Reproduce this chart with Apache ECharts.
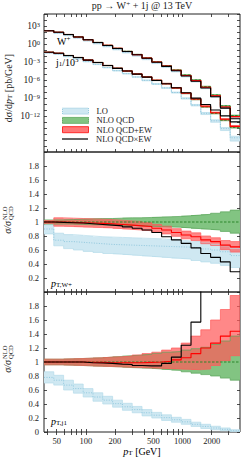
<!DOCTYPE html>
<html><head><meta charset="utf-8">
<script src="https://cdn.jsdelivr.net/npm/echarts@6/dist/echarts.min.js"></script>
<style>html,body{margin:0;padding:0;background:#fff}#c{width:241px;height:460px}</style>
</head><body><div id="c"></div>
<script>
// ---------- data ----------
const binEdges = [37.0, 46.7, 59.0, 74.5, 94.0, 118.7, 149.9, 189.3, 239.0, 301.8, 381.1, 481.2, 607.5, 767.0, 968.3, 1222.5, 1543.5, 1948.8, 2460.3, 3106.4, 3922];
// NLO QCD central dσ/dpT [pb/GeV]
const wNloQcd = [166, 89, 38, 15, 5.2, 1.8, 0.6, 0.19, 0.06, 0.018, 4.7e-3, 1.1e-3, 2.4e-4, 4.7e-5, 6.8e-6, 1.0e-6, 8.3e-8, 3.2e-9, 4.7e-11, 1.2e-12];
const j1NloQcd = [42, 28, 12, 5.6, 2.1, 0.83, 0.26, 0.089, 0.032, 0.01, 3.2e-3, 8.9e-4, 2.4e-4, 4.7e-5, 6.0e-6, 6.0e-7, 3.5e-8, 2.8e-9, 2.1e-10, 1.3e-11];
const j1Scale = 1e-3;
// ratios to NLO QCD, W+ pT
const wLoC  = [0.9, 0.74, 0.72, 0.71, 0.7, 0.69, 0.68, 0.675, 0.67, 0.665, 0.66, 0.655, 0.65, 0.645, 0.64, 0.63, 0.615, 0.6, 0.575, 0.52];
const wLoUp = [0.96, 0.84, 0.82, 0.81, 0.8, 0.79, 0.785, 0.78, 0.775, 0.77, 0.765, 0.76, 0.75, 0.74, 0.73, 0.72, 0.7, 0.68, 0.66, 0.62];
const wLoDn = [0.83, 0.66, 0.62, 0.6, 0.58, 0.565, 0.55, 0.54, 0.53, 0.52, 0.51, 0.5, 0.49, 0.48, 0.47, 0.45, 0.43, 0.41, 0.38, 0.35];
const wQcdUp = [1.03, 1.03, 1.035, 1.04, 1.045, 1.05, 1.05, 1.055, 1.06, 1.06, 1.065, 1.07, 1.075, 1.08, 1.09, 1.1, 1.11, 1.125, 1.145, 1.17];
const wQcdDn = [0.97, 0.97, 0.97, 0.965, 0.96, 0.96, 0.955, 0.95, 0.95, 0.945, 0.94, 0.935, 0.93, 0.925, 0.915, 0.905, 0.895, 0.885, 0.865, 0.84];
const wEwC  = [1.0, 1.0, 0.995, 0.99, 0.985, 0.98, 0.975, 0.965, 0.955, 0.945, 0.935, 0.91, 0.885, 0.85, 0.815, 0.79, 0.745, 0.72, 0.67, 0.645];
const wEwUp = [1.02, 1.06, 1.055, 1.05, 1.045, 1.04, 1.035, 1.025, 1.015, 1.005, 0.99, 0.965, 0.94, 0.905, 0.87, 0.845, 0.8, 0.775, 0.735, 0.72];
const wEwDn = [0.98, 0.94, 0.935, 0.93, 0.925, 0.92, 0.915, 0.905, 0.895, 0.885, 0.875, 0.855, 0.83, 0.795, 0.76, 0.735, 0.69, 0.665, 0.605, 0.57];
const wMult = [1.0, 0.995, 0.99, 0.985, 0.975, 0.965, 0.955, 0.945, 0.93, 0.91, 0.885, 0.85, 0.79, 0.745, 0.695, 0.63, 0.55, 0.495, 0.43, 0.29];
// ratios to NLO QCD, leading jet pT
const jLoC  = [0.78, 0.74, 0.67, 0.62, 0.56, 0.5, 0.455, 0.405, 0.36, 0.32, 0.275, 0.24, 0.205, 0.175, 0.145, 0.11, 0.08, 0.057, 0.038, 0.018];
const jLoUp = [0.86, 0.81, 0.74, 0.685, 0.62, 0.56, 0.51, 0.455, 0.41, 0.365, 0.32, 0.28, 0.245, 0.21, 0.18, 0.14, 0.11, 0.082, 0.058, 0.033];
const jLoDn = [0.70, 0.67, 0.60, 0.555, 0.50, 0.44, 0.40, 0.355, 0.31, 0.275, 0.23, 0.20, 0.165, 0.14, 0.11, 0.08, 0.05, 0.032, 0.018, 0.005];
const jQcdUp = [1.04, 1.04, 1.045, 1.05, 1.055, 1.06, 1.07, 1.08, 1.09, 1.1, 1.11, 1.125, 1.14, 1.15, 1.17, 1.19, 1.21, 1.25, 1.3, 1.37];
const jQcdDn = [0.96, 0.96, 0.955, 0.95, 0.945, 0.94, 0.935, 0.93, 0.92, 0.915, 0.91, 0.9, 0.89, 0.88, 0.86, 0.84, 0.82, 0.8, 0.77, 0.74];
const jEwC  = [1.0, 1.0, 1.0, 1.0, 0.995, 0.995, 0.99, 0.99, 0.99, 0.99, 0.995, 1.0, 1.01, 1.03, 1.06, 1.12, 1.2, 1.27, 1.37, 1.44];
const jEwUp = [1.04, 1.04, 1.045, 1.05, 1.055, 1.06, 1.07, 1.075, 1.085, 1.1, 1.12, 1.14, 1.17, 1.2, 1.27, 1.37, 1.46, 1.6, 1.75, 1.95];
const jEwDn = [0.96, 0.96, 0.955, 0.95, 0.945, 0.94, 0.935, 0.93, 0.925, 0.92, 0.915, 0.91, 0.905, 0.9, 0.895, 0.89, 0.9, 0.95, 1.02, 1.09];
const jMult = [1.0, 1.0, 1.0, 1.0, 0.99, 0.985, 0.98, 0.97, 0.965, 0.95, 0.945, 0.945, 0.98, 1.07, 1.24, 1.57, 2.4, 3.5, 5, 8];
const ones = [1, 1, 1, 1, 1, 1, 1, 1, 1, 1, 1, 1, 1, 1, 1, 1, 1, 1, 1, 1];
// ticks / labels
const xLabelValues = [50, 100, 200, 500, 1000, 2000];
const xTickValues = [40, 50, 60, 70, 80, 90, 100, 200, 300, 400, 500, 600, 700, 800, 900, 1000, 2000, 3000];
const yLogLabelValues = [1e3, 1, 1e-3, 1e-6, 1e-9, 1e-12];
const yLogTickValues = [1e5, 1e4, 1e3, 1e2, 1e1, 1, 1e-1, 1e-2, 1e-3, 1e-4, 1e-5, 1e-6, 1e-7, 1e-8, 1e-9, 1e-10, 1e-11, 1e-12, 1e-13, 1e-14, 1e-15, 1e-16, 1e-17];
const ratioTickValues = [0, 0.2, 0.4, 0.6, 0.8, 1, 1.2, 1.4, 1.6, 1.8, 2];
const ratioLabelsMid = [0.2, 0.4, 0.6, 0.8, 1, 1.2, 1.4, 1.6, 1.8];
const ratioLabelsBot = [0, 0.2, 0.4, 0.6, 0.8, 1, 1.2, 1.4, 1.6, 1.8];
const legendNames = ['LO', 'NLO QCD', 'NLO QCD+EW', 'NLO QCD×EW'];

// ---------- style ----------
const FONT = "'Liberation Serif','DejaVu Serif',serif";
const TXT = '#1a1a1a';
const C = {
  loFill: '#cfe8f2', loLine: '#8fc7dd', loEdge: '#b5dbe9',
  qcdFill: '#82c482', qcdLine: '#2a862a', qcdEdge: '#5aa55a',
  ewFill: 'rgba(255,90,90,0.72)', ewLine: '#ff0000', ewEdge: '#ff5a5a',
  mult: '#000000'
};

const mul = (a, b, s) => a.map((v, i) => v * b[i] * (s || 1));
function stepData(vals) {
  const d = vals.map((v, i) => [binEdges[i], v]);
  d.push([binEdges[vals.length], vals[vals.length - 1]]);
  return d;
}
function band(name, gi, lo, hi, fill, z) {
  return {
    type: 'custom', name, xAxisIndex: 2 * gi, yAxisIndex: 2 * gi, z, clip: true, silent: true,
    data: [[binEdges[0], lo[0]]],
    renderItem(params, api) {
      const pts = [];
      for (let i = 0; i < hi.length; i++) {
        pts.push(api.coord([binEdges[i], hi[i]]));
        pts.push(api.coord([binEdges[i + 1], hi[i]]));
      }
      for (let i = lo.length - 1; i >= 0; i--) {
        pts.push(api.coord([binEdges[i + 1], lo[i]]));
        pts.push(api.coord([binEdges[i], lo[i]]));
      }
      return { type: 'polygon', shape: { points: pts }, style: { fill, stroke: null } };
    }
  };
}
function step(name, gi, vals, color, width, type, z) {
  return {
    type: 'line', name, xAxisIndex: 2 * gi, yAxisIndex: 2 * gi, z, step: 'end', symbol: 'none',
    silent: true, animation: false, clip: true,
    lineStyle: { color, width, type }, data: stepData(vals)
  };
}
function panelSeries(gi, base, sc, loC, loUp, loDn, qUp, qDn, eC, eUp, eDn, mult) {
  const m = a => mul(a, base, sc);
  return [
    band('LO', gi, m(loDn), m(loUp), C.loFill, 1),
    band('NLO QCD', gi, m(qDn), m(qUp), C.qcdFill, 2),
    band('NLO QCD+EW', gi, m(eDn), m(eUp), C.ewFill, 3),
    step('', gi, m(loUp), C.loEdge, 0.7, 'solid', 4),
    step('', gi, m(loDn), C.loEdge, 0.7, 'solid', 4),
    step('', gi, m(qUp), C.qcdEdge, 0.7, 'solid', 4),
    step('', gi, m(qDn), C.qcdEdge, 0.7, 'solid', 4),
    step('', gi, m(eUp), C.ewEdge, 0.7, 'solid', 4),
    step('', gi, m(eDn), C.ewEdge, 0.7, 'solid', 4),
    step('', gi, m(loC), C.loLine, 1, [1, 1.5], 5),
    step('', gi, m(ones), C.qcdLine, 1, [2.5, 1.5], 6),
    step('', gi, m(eC), C.ewLine, 1.1, 'solid', 7),
    step('NLO QCD×EW', gi, m(mult), C.mult, 1.1, 'solid', 8)
  ];
}

const grids = [
  { left: 44, top: 14, width: 196, height: 138 },
  { left: 44, top: 152, width: 196, height: 140 },
  { left: 44, top: 292, width: 196, height: 140 }
].map(g => Object.assign(g, { show: true, borderColor: '#222', borderWidth: 1, backgroundColor: 'transparent', containLabel: false }));

const xAxes = [];
const yAxes = [];
for (let gi = 0; gi < 3; gi++) {
  ['bottom', 'top'].forEach(pos => {
    xAxes.push({
      type: 'log', logBase: 10, gridIndex: gi, position: pos, min: binEdges[0], max: binEdges[20],
      axisLine: { show: false },
      axisTick: { show: true, inside: true, length: 3, customValues: xTickValues, lineStyle: { color: '#222', width: 0.8 } },
      axisLabel: { show: gi === 2 && pos === 'bottom', customValues: xLabelValues, formatter: v => String(Math.round(v)), fontFamily: FONT, fontSize: 8.5, color: TXT, margin: 4 },
      splitLine: { show: false }
    });
  });
  ['left', 'right'].forEach(pos => {
    if (gi === 0) {
      yAxes.push({
        type: 'log', logBase: 10, gridIndex: gi, position: pos, min: 1e-18, max: 1e5,
        axisLine: { show: false },
        axisTick: { show: true, inside: true, length: 3, customValues: yLogTickValues, lineStyle: { color: '#222', width: 0.8 } },
        axisLabel: {
          show: pos === 'left', customValues: yLogLabelValues, margin: 4,
          formatter: v => { const e = Math.round(Math.log10(v)); return '{b|10}{s|' + (e < 0 ? '−' + (-e) : e) + '}'; },
          rich: { b: { fontFamily: FONT, fontSize: 9.5, color: TXT }, s: { fontFamily: FONT, fontSize: 6.5, color: TXT, verticalAlign: 'top', padding: [0, 0, 4, 0] } }
        },
        splitLine: { show: false }
      });
    } else {
      yAxes.push({
        type: 'value', gridIndex: gi, position: pos, min: 0, max: 2,
        axisLine: { show: false },
        axisTick: { show: true, inside: true, length: 3, customValues: ratioTickValues, lineStyle: { color: '#222', width: 0.8 } },
        axisLabel: { show: pos === 'left', customValues: gi === 1 ? ratioLabelsMid : ratioLabelsBot, fontFamily: FONT, fontSize: 8.5, color: TXT, margin: 5 },
        splitLine: { show: false }
      });
    }
  });
}

const series = [].concat(
  panelSeries(0, wNloQcd, 1, wLoC, wLoUp, wLoDn, wQcdUp, wQcdDn, wEwC, wEwUp, wEwDn, wMult),
  panelSeries(0, j1NloQcd, j1Scale, jLoC, jLoUp, jLoDn, jQcdUp, jQcdDn, jEwC, jEwUp, jEwDn, jMult),
  panelSeries(1, ones, 1, wLoC, wLoUp, wLoDn, wQcdUp, wQcdDn, wEwC, wEwUp, wEwDn, wMult),
  panelSeries(2, ones, 1, jLoC, jLoUp, jLoDn, jQcdUp, jQcdDn, jEwC, jEwUp, jEwDn, jMult)
);

const rich = {
  n: { fontFamily: FONT, fontSize: 10, color: TXT },
  i: { fontFamily: FONT, fontSize: 10, fontStyle: 'italic', color: TXT },
  sb: { fontFamily: FONT, fontSize: 7, color: TXT, verticalAlign: 'bottom', padding: [4, 0, 0, 0] },
  sp: { fontFamily: FONT, fontSize: 7, color: TXT, verticalAlign: 'top', padding: [0, 0, 4, 0] }
};

const legendIcons = [
  { icon: 'rect', itemStyle: { color: C.loFill, borderColor: C.loLine, borderWidth: 1, borderType: 'dotted' } },
  { icon: 'rect', itemStyle: { color: C.qcdFill, borderColor: C.qcdLine, borderWidth: 1, borderType: 'dotted' } },
  { icon: 'rect', itemStyle: { color: '#ff7676', borderColor: '#ff2a2a', borderWidth: 1 } },
  { icon: 'path://M0,0H26V1.2H0Z', itemStyle: { color: '#000' } }
];
const legendCenters = [110.6, 119.9, 129.2, 138.5];
const legends = legendNames.map((name, k) => ({
  left: 62, top: legendCenters[k] - 4, orient: 'vertical', itemWidth: 26, itemHeight: 6, itemGap: 0, padding: 0,
  selectedMode: false,
  textStyle: { fontFamily: FONT, fontSize: 8.5, color: TXT, lineHeight: 8, padding: [0, 0, 0, 3] },
  data: [Object.assign({ name }, legendIcons[k])]
}));

const option = {
  animation: false,
  title: {
    text: 'pp → W{sp|+} + 1j @ 13 TeV', left: 142, top: 0, textAlign: 'center', padding: 0,
    textStyle: { fontFamily: FONT, fontSize: 10, fontWeight: 'normal', color: TXT, rich }
  },
  legend: legends,
  grid: grids, xAxis: xAxes, yAxis: yAxes, series,
  graphic: [
    { type: 'text', x: 57, y: 41, style: { text: '{n|W}{sp|+}', rich, verticalAlign: 'middle' } },
    { type: 'text', x: 56, y: 62, style: { text: '{n|j}{sb|1}{n|/10}{sp|3}', rich, verticalAlign: 'middle' } },
    { type: 'text', x: 51, y: 283, style: { text: '{i|p}{sb|T,W+}', rich, verticalAlign: 'middle' } },
    { type: 'text', x: 51, y: 421, style: { text: '{i|p}{sb|T,j1}', rich, verticalAlign: 'middle' } },
    { type: 'text', x: 142, y: 451, style: { text: '{i|p}{sb|T}{n| [GeV]}', rich, align: 'center', verticalAlign: 'middle' } },
    { type: 'text', x: 8, y: 88, rotation: Math.PI / 2, style: { text: 'd{n|σ}/d{i|p}{sb|T}{n| [pb/GeV]}', rich, font: '10px ' + FONT, fill: TXT, align: 'center', verticalAlign: 'middle' } },
    { type: 'group', x: 7, y: 220, rotation: Math.PI / 2, children: [
      { type: 'text', x: -1, y: 0, style: { text: 'σ/σ', font: 'italic 10px ' + FONT, fill: TXT, align: 'right', verticalAlign: 'middle' } },
      { type: 'text', x: 0, y: -3, style: { text: 'NLO', font: '6.5px ' + FONT, fill: TXT, align: 'left', verticalAlign: 'middle' } },
      { type: 'text', x: 0, y: 3.5, style: { text: 'QCD', font: '6.5px ' + FONT, fill: TXT, align: 'left', verticalAlign: 'middle' } }
    ] },
    { type: 'group', x: 7, y: 359, rotation: Math.PI / 2, children: [
      { type: 'text', x: -1, y: 0, style: { text: 'σ/σ', font: 'italic 10px ' + FONT, fill: TXT, align: 'right', verticalAlign: 'middle' } },
      { type: 'text', x: 0, y: -3, style: { text: 'NLO', font: '6.5px ' + FONT, fill: TXT, align: 'left', verticalAlign: 'middle' } },
      { type: 'text', x: 0, y: 3.5, style: { text: 'QCD', font: '6.5px ' + FONT, fill: TXT, align: 'left', verticalAlign: 'middle' } }
    ] }
  ]
};
const chart = echarts.init(document.getElementById('c'), null, { renderer: 'svg', width: 241, height: 460 });
chart.setOption(option);
</script></body></html>
